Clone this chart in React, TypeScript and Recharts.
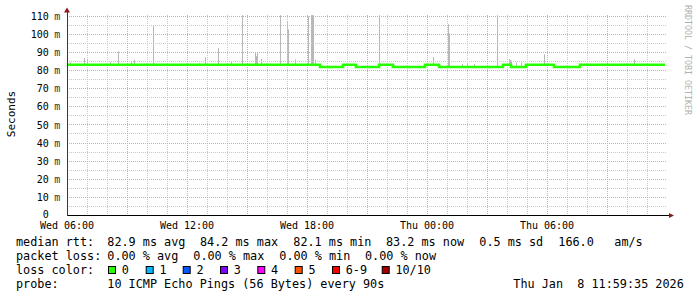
import React from 'react';
import { ComposedChart, Line, Bar, XAxis, YAxis, ReferenceLine } from 'recharts';

// time is hours since Wed 06:00, values in milliseconds
const stepTimes = [0, 12.65, 13.8, 14.45, 15.6, 16.3, 17.9, 18.6, 21.8, 22.2, 22.95, 24.35, 25.65, 29.9];
const stepValues = [83.2, 82.0, 83.2, 82.0, 83.2, 82.0, 83.2, 82.0, 83.2, 82.0, 83.2, 82.0, 83.2, 83.2];

// smoke spikes (top of ping spread)
const spikeTimes = [
  0.19, 0.87, 1.02, 2.19, 2.57, 3.24, 3.38, 4.32, 6.62, 6.94, 7.58, 8.24, 8.77,
  9.42, 9.48, 9.55, 9.75, 10.67, 11.05, 11.1, 11.44, 12.1, 12.24, 12.3, 12.35, 12.42,
  15.62, 18.35, 19.07, 19.12, 19.8, 20.05, 20.4, 21.52, 22.12, 22.18, 22.24, 22.5, 22.74,
  23.89, 25.74, 27.04, 28.39,
];
const spikeTops = [
  84.7, 87, 86.5, 84.7, 90.6, 84.7, 86, 104.6, 84, 87.3, 92.5, 84.7, 110.6,
  89.7, 88, 90, 86.5, 110.6, 106.9, 102.8, 86.2, 110, 110.6, 110.6, 110.6, 86,
  110.6, 87.5, 105.6, 100.6, 83.8, 83.8, 83.6, 110.6, 86.5, 85.8, 85.5, 84.5, 84.5,
  89, 84, 84.5, 86.2,
];

const yTicks = [0, 10, 20, 30, 40, 50, 60, 70, 80, 90, 100, 110];
const yMajor = [10, 20, 30, 40, 50, 60, 70, 80, 90, 100, 110];
const yMinor = [5, 15, 25, 35, 45, 55, 65, 75, 85, 95, 105];
const xTickHours = [0, 6, 12, 18, 24];
const xTickLabels = ['Wed 06:00', 'Wed 12:00', 'Wed 18:00', 'Thu 00:00', 'Thu 06:00'];
const xMajor = [3, 6, 9, 12, 15, 18, 21, 24, 27];
const xMinor = [1, 2, 4, 5, 7, 8, 10, 11, 13, 14, 16, 17, 19, 20, 22, 23, 25, 26, 28, 29];

const lossLabels = ['0', '1', '2', '3', '4', '5', '6-9', '10/10'];
const lossColors = ['#26ff00', '#00b8ff', '#0059ff', '#7e00ff', '#ff00ff', '#ff5500', '#ff0000', '#a10000'];
const lossBoxX = [108, 145.7, 182.7, 220, 257.3, 294.7, 332, 381.7];

const medianAt = (t: number) => {
  let v = stepValues[0];
  stepTimes.forEach((s, i) => {
    if (s <= t) v = stepValues[i];
  });
  return v;
};

const rows = [
  ...stepTimes.map((t, i) => ({ t, median: stepValues[i] })),
  ...spikeTimes.map((t, i) => ({ t, smoke: [medianAt(t), spikeTops[i]] })),
].sort((a, b) => a.t - b.t);

const MONO = '"DejaVu Sans Mono", "Liberation Mono", monospace';

const YTick = (props: any) => {
  const { y, payload } = props;
  const v = payload.value;
  // the zero label sits a touch higher so it clears the time labels
  const yy = v === 0 ? y - 1.5 : y;
  return (
    <g fontFamily={MONO} fontSize={10} fill="#000">
      <text x={48.8} y={yy} dy="0.36em" textAnchor="end">{v}</text>
      {v !== 0 && <text x={54.2} y={yy} dy="0.36em" fill="#333">m</text>}
    </g>
  );
};

const XTick = (props: any) => {
  const { x, payload } = props;
  const idx = xTickHours.indexOf(payload.value);
  return (
    <text x={x} y={229} textAnchor="middle" fontFamily={MONO} fontSize={10} fill="#000">
      {xTickLabels[idx]}
    </text>
  );
};

const SmokeBar = (props: any) => {
  const { x, y, width, height } = props;
  if (height == null || isNaN(y)) return null;
  const cx = Math.round(x + width / 2 - 0.5);
  return <rect x={cx} y={y} width={1} height={height} fill="#b8b8b8" />;
};

const legendRows: { y: number; items: [number, string][] }[] = [
  {
    y: 245.5,
    items: [
      [16, 'median rtt:'], [107.3, '82.9 ms avg'], [200, '84.2 ms max'], [293.3, '82.1 ms min'],
      [386, '83.2 ms now'], [479.3, '0.5 ms sd'], [558.3, '166.0'], [614.3, 'am/s'],
    ],
  },
  {
    y: 259.5,
    items: [
      [16, 'packet loss:'], [107.3, '0.00 % avg'], [193.3, '0.00 % max'], [279.3, '0.00 % min'], [365, '0.00 % now'],
    ],
  },
  { y: 273.5, items: [[16, 'loss color:']] },
  {
    y: 287.5,
    items: [[16, 'probe:'], [107.3, '10 ICMP Echo Pings (56 Bytes) every 90s'], [513.3, 'Thu Jan  8 11:59:35 2026']],
  },
];

export default function App() {
  return (
    <div style={{ position: 'absolute', left: 0, top: 0, width: 697, height: 297, background: '#fff' }}>
      <ComposedChart width={697} height={297} data={rows} margin={{ top: 15, right: 30, left: 7, bottom: 61.5 }}>
        <XAxis
          type="number"
          dataKey="t"
          domain={[0, 30]}
          ticks={xTickHours}
          interval={0}
          tick={<XTick />}
          tickLine={false}
          axisLine={false}
          height={20}
          allowDataOverflow
        />
        <YAxis
          type="number"
          domain={[0, 110.7]}
          ticks={yTicks}
          interval={0}
          tick={<YTick />}
          tickLine={false}
          axisLine={false}
          width={60}
          allowDataOverflow
        />
        {yMinor.map((v) => (
          <ReferenceLine key={`ym${v}`} y={v} stroke="#c8c8c8" strokeDasharray="1 1" shapeRendering="crispEdges" />
        ))}
        {xMinor.map((h) => (
          <ReferenceLine key={`xm${h}`} x={h} stroke="#c8c8c8" strokeDasharray="1 1" shapeRendering="crispEdges" />
        ))}
        {yMajor.map((v) => (
          <ReferenceLine key={`yM${v}`} y={v} stroke="#eea0a0" strokeDasharray="1 1" shapeRendering="crispEdges" />
        ))}
        {xMajor.map((h) => (
          <ReferenceLine key={`xM${h}`} x={h} stroke="#f0a0a0" strokeDasharray="1 1" shapeRendering="crispEdges" />
        ))}
        <Bar dataKey="smoke" barSize={1} shape={<SmokeBar />} isAnimationActive={false} />
        <Line
          dataKey="median"
          type="stepAfter"
          stroke="#26ff00"
          strokeWidth={2.6}
          dot={false}
          connectNulls
          isAnimationActive={false}
        />
        <ReferenceLine y={0} stroke="#000" shapeRendering="crispEdges" />
        <ReferenceLine x={0} stroke="#4a3030" shapeRendering="crispEdges" />
      </ComposedChart>
      <svg width={697} height={297} style={{ position: 'absolute', left: 0, top: 0, pointerEvents: 'none' }}>
        <line x1={67} y1={11} x2={67} y2={15} stroke="#4a3030" shapeRendering="crispEdges" />
        <polygon points="64,12.5 70,12.5 67,7.5" fill="#8b1a1a" />
        <line x1={667} y1={215.5} x2={670} y2={215.5} stroke="#000" shapeRendering="crispEdges" />
        <polygon points="669,213 669,218 674,215.5" fill="#8b1a1a" />
        <text
          transform="translate(15,114) rotate(-90)"
          textAnchor="middle"
          fontFamily={MONO}
          fontSize={11}
          fill="#000"
        >
          Seconds
        </text>
        <text transform="translate(685,5) rotate(90)" fontFamily={MONO} fontSize={8.3} fill="#b0b0b0">
          RRDTOOL / TOBI OETIKER
        </text>
        <g fontFamily={MONO} fontSize={11.8} fill="#000">
          {legendRows.map((r) =>
            r.items.map(([x, s]) => (
              <text key={`${r.y}-${x}`} x={x} y={r.y} xmlSpace="preserve" style={{ whiteSpace: 'pre' }}>
                {s}
              </text>
            )),
          )}
          {lossLabels.map((l, i) => (
            <g key={l}>
              <rect x={lossBoxX[i] + 0.5} y={266.5} width={7} height={7} fill={lossColors[i]} stroke="#000" />
              <text x={lossBoxX[i] + 13.7} y={273.5}>
                {l}
              </text>
            </g>
          ))}
        </g>
      </svg>
    </div>
  );
}
